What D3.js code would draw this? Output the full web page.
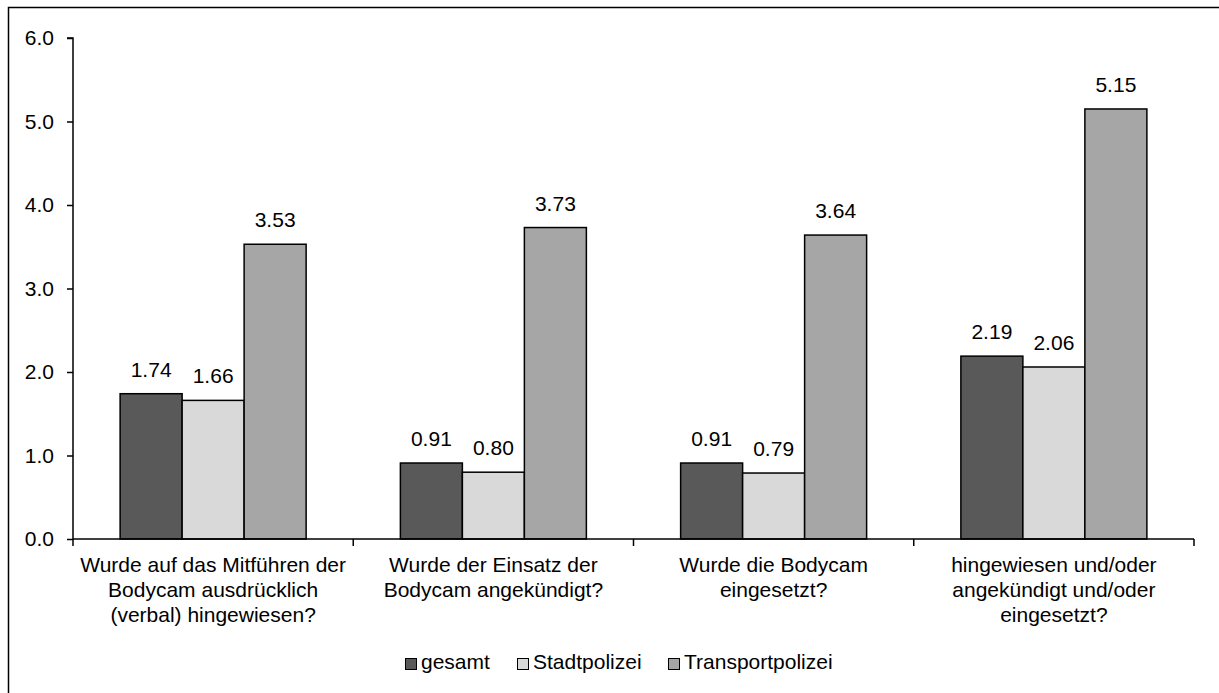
<!DOCTYPE html>
<html><head><meta charset="utf-8">
<script src="https://cdn.jsdelivr.net/npm/d3@7"></script>
<style>body{margin:0;background:#fff;} svg{display:block;} text{font-family:"Liberation Sans",Arial,sans-serif;fill:#000;}</style>
</head><body>
<svg id="c" width="1219" height="693"></svg>
<script>
const categories = [
  ["Wurde auf das Mitführen der","Bodycam ausdrücklich","(verbal) hingewiesen?"],
  ["Wurde der Einsatz der","Bodycam angekündigt?"],
  ["Wurde die Bodycam","eingesetzt?"],
  ["hingewiesen und/oder","angekündigt und/oder","eingesetzt?"]
];
const seriesNames = ["gesamt","Stadtpolizei","Transportpolizei"];
const gesamt = [1.74, 0.91, 0.91, 2.19];
const stadtpolizei = [1.66, 0.80, 0.79, 2.06];
const transportpolizei = [3.53, 3.73, 3.64, 5.15];
const yTicks = [0,1,2,3,4,5,6];
const colors = ["#595959","#d9d9d9","#a6a6a6"];

(function(){
const series = [gesamt, stadtpolizei, transportpolizei];
const FS = "21px";
const svg = d3.select("#c");
svg.append("rect").attr("x",8.5).attr("y",7.5).attr("width",1240).attr("height",700)
  .attr("fill","none").attr("stroke","#000").attr("stroke-width",1.5);

const pL=73, pR=1194, pT=38, pB=539;
const x = d3.scaleBand().domain(d3.range(categories.length)).range([pL,pR]).paddingInner(0).paddingOuter(0);
const y = d3.scaleLinear().domain([0,6]).range([pB,pT]);
const bw = 62;
const inner = d3.scaleBand().domain(d3.range(3)).range([0,bw*3]);

const g = svg.append("g");
categories.forEach((c,i)=>{
  const gx = x(i) + (x.bandwidth()-bw*3)/2;
  series.forEach((s,j)=>{
    const v = s[i];
    g.append("rect").attr("x",gx+inner(j)).attr("y",y(v)).attr("width",bw).attr("height",y(0)-y(v))
      .attr("fill",colors[j]).attr("stroke","#000").attr("stroke-width",1.5);
    g.append("text").attr("x",gx+inner(j)+bw/2).attr("y",y(v)-17).attr("text-anchor","middle")
      .attr("font-size",FS).text(v.toFixed(2));
  });
});

const yAxis = d3.axisLeft(y).tickValues(yTicks).tickFormat(d3.format(".1f")).tickSize(6).tickPadding(13);
const ya = svg.append("g").attr("transform",`translate(${pL},0)`).call(yAxis);
ya.selectAll("path,line").attr("stroke","#000").attr("stroke-width",1.5);
ya.select(".domain").attr("d",`M-6,${pT}H0V${pB}`);
ya.selectAll("text").attr("font-size",FS).attr("font-family","Liberation Sans, Arial, sans-serif").attr("fill","#000");

const xa = svg.append("g").attr("transform",`translate(0,${pB})`);
xa.append("line").attr("x1",pL).attr("x2",pR).attr("stroke","#000").attr("stroke-width",1.5);
const tickPos = d3.range(categories.length+1).map(i=> i<categories.length ? x(i) : pR);
tickPos.forEach(p=> xa.append("line").attr("x1",p).attr("x2",p).attr("y1",0).attr("y2",7).attr("stroke","#000").attr("stroke-width",1.5));
categories.forEach((c,i)=>{
  const t = xa.append("text").attr("text-anchor","middle").attr("font-size",FS);
  c.forEach((line,k)=> t.append("tspan").attr("x",x(i)+x.bandwidth()/2).attr("y",33+k*25).text(line));
});

const legX = [405, 517, 668];
seriesNames.forEach((n,j)=>{
  svg.append("rect").attr("x",legX[j]+0.5).attr("y",658.5).attr("width",11).attr("height",11)
    .attr("fill",colors[j]).attr("stroke","#000").attr("stroke-width",1);
  svg.append("text").attr("x",legX[j]+16).attr("y",669).attr("font-size",FS).text(n);
});
})();
</script>
</body></html>
